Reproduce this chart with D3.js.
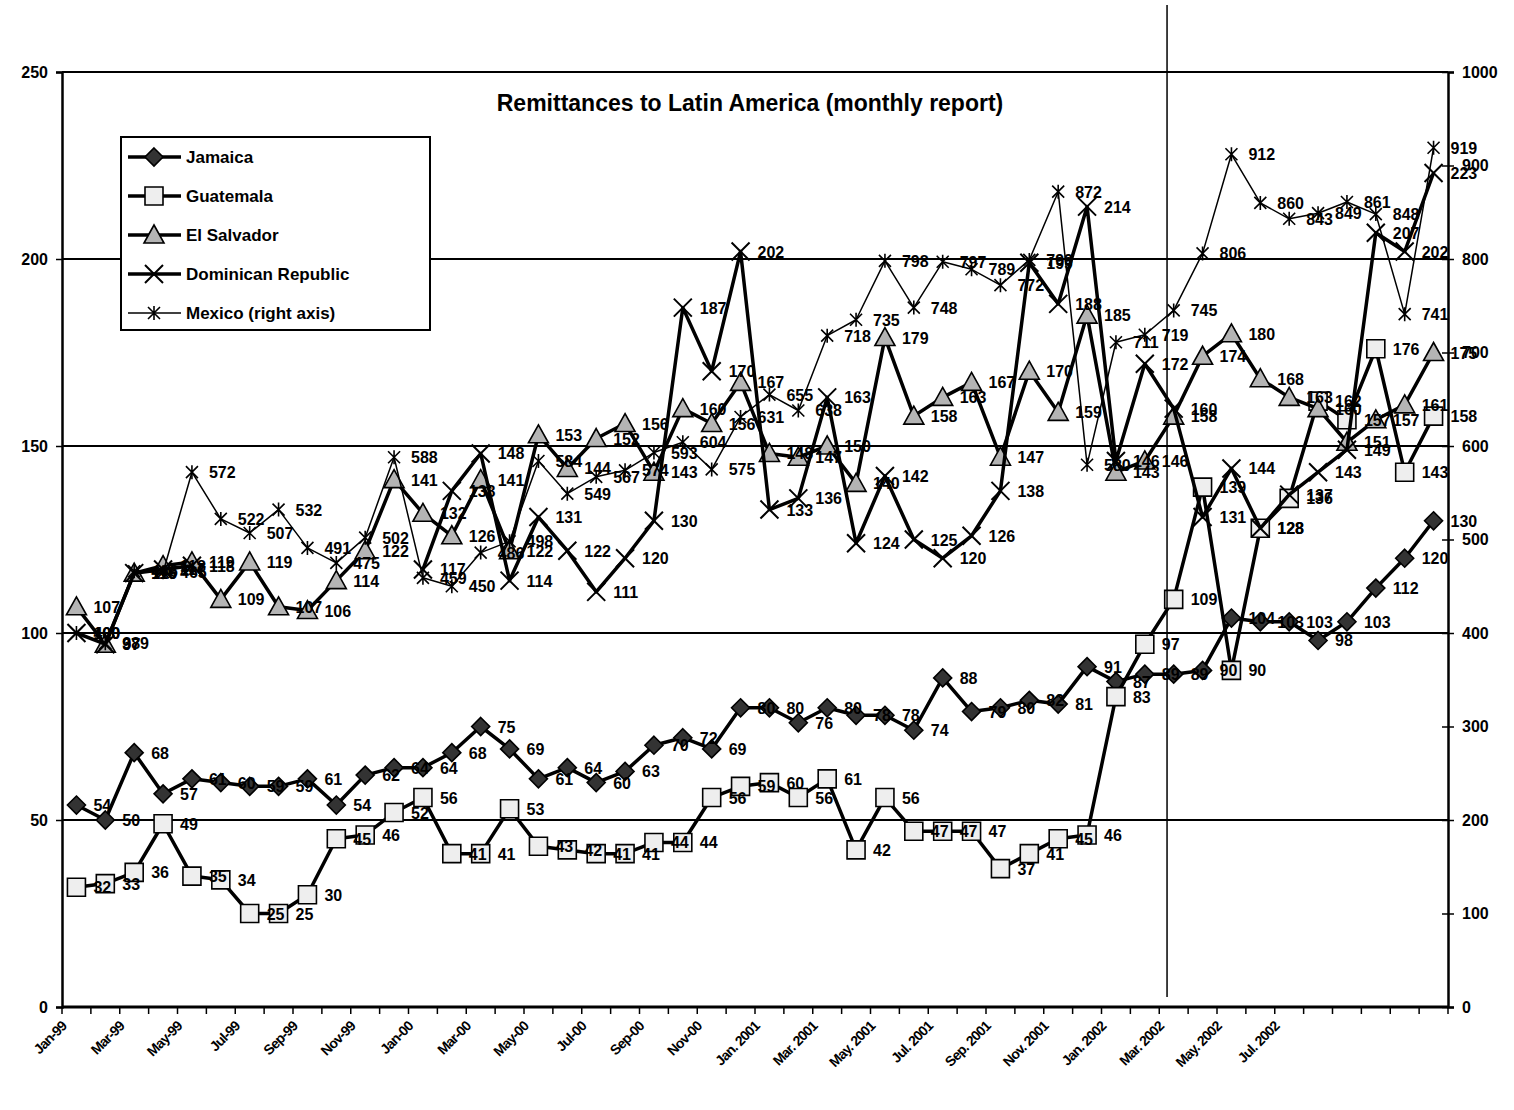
<!DOCTYPE html>
<html>
<head>
<meta charset="utf-8">
<script src="https://cdnjs.cloudflare.com/ajax/libs/d3/7.8.5/d3.min.js"></script>
<style>
  body { margin: 0; background: #fff; }
  svg { font-family: "Liberation Sans", Arial, sans-serif; }
</style>
</head>
<body>
<div id="chart"></div>
<script>
// categories: one per month, Jan 1999 .. Dec 2002
const months = [
  "Jan-99","Feb-99","Mar-99","Apr-99","May-99","Jun-99","Jul-99","Aug-99","Sep-99","Oct-99","Nov-99","Dec-99",
  "Jan-00","Feb-00","Mar-00","Apr-00","May-00","Jun-00","Jul-00","Aug-00","Sep-00","Oct-00","Nov-00","Dec-00",
  "Jan-01","Feb-01","Mar-01","Apr-01","May-01","Jun-01","Jul-01","Aug-01","Sep-01","Oct-01","Nov-01","Dec-01",
  "Jan-02","Feb-02","Mar-02","Apr-02","May-02","Jun-02","Jul-02","Aug-02","Sep-02","Oct-02","Nov-02","Dec-02"
];
// tick labels shown on every second month
const tickLabels = [
  "Jan-99","Mar-99","May-99","Jul-99","Sep-99","Nov-99",
  "Jan-00","Mar-00","May-00","Jul-00","Sep-00","Nov-00",
  "Jan. 2001","Mar. 2001","May. 2001","Jul. 2001","Sep. 2001","Nov. 2001",
  "Jan. 2002","Mar. 2002","May. 2002","Jul. 2002"
];

const jamaica = [54,50,68,57,61,60,59,59,61,54,62,64,64,68,75,69,61,64,60,63,70,72,69,80,
  80,76,80,78,78,74,88,79,80,82,81,91,87,89,89,90,104,103,103,98,103,112,120,130];
const guatemala = [32,33,36,49,35,34,25,25,30,45,46,52,56,41,41,53,43,42,41,41,44,44,56,59,
  60,56,61,42,56,47,47,47,37,41,45,46,83,97,109,139,90,128,136,162,157,176,143,158];
const elSalvador = [107,97,116,118,119,109,119,107,106,114,122,141,132,126,141,122,153,144,152,156,143,160,156,167,
  148,147,150,140,179,158,163,167,147,170,159,185,143,146,158,174,180,168,163,160,151,157,161,175];
const dominican = [100,97,116,117,118,null,null,null,null,null,null,null,117,138,148,114,131,122,111,120,130,187,170,202,
  133,136,163,124,142,125,120,126,138,199,188,214,146,172,160,131,144,128,137,143,149,207,202,223];
const mexico = [400,389,466,465,572,522,507,532,491,475,502,588,459,450,486,498,584,549,567,574,593,604,575,631,
  655,638,718,735,798,748,797,789,772,799,872,580,711,719,745,806,912,860,843,849,861,848,741,919];

const leftTicks = [0,50,100,150,200,250];
const rightTicks = [0,100,200,300,400,500,600,700,800,900,1000];
// position of the vertical marker line, in months from Jan-99
const markerMonth = 37.77;

const W = 1514, H = 1110;
const margin = {top: 72, right: 66, bottom: 103, left: 62};
const plotW = W - margin.left - margin.right,
      plotH = H - margin.top - margin.bottom;

const svg = d3.select("#chart").append("svg")
  .attr("width", W).attr("height", H);

const g = svg.append("g")
  .attr("transform", `translate(${margin.left},${margin.top})`);

const x = d3.scaleBand().domain(months).range([0, plotW]).padding(0);
const cx = m => x(m) + x.bandwidth() / 2;
const y = d3.scaleLinear().domain([0, 250]).range([plotH, 0]);
const yR = d3.scaleLinear().domain([0, 1000]).range([plotH, 0]);

// gridlines
g.append("g").selectAll("line")
  .data(leftTicks.slice(1))
  .join("line")
  .attr("x1", 0).attr("x2", plotW)
  .attr("y1", d => y(d)).attr("y2", d => y(d))
  .attr("stroke", "#000").attr("stroke-width", 2);

// left axis
const axL = g.append("g").call(d3.axisLeft(y).tickValues(leftTicks).tickSize(6).tickPadding(8));
axL.select(".domain").attr("stroke-width", 2.5);
axL.selectAll("line").attr("stroke-width", 1.5);
axL.selectAll("text").style("font-size", "16px").style("font-weight", "bold").attr("fill", "#000");

// right axis
const axR = g.append("g").attr("transform", `translate(${plotW},0)`)
  .call(d3.axisRight(yR).tickValues(rightTicks).tickFormat(d3.format("d")).tickSize(6).tickPadding(8));
axR.select(".domain").attr("stroke-width", 2.5);
axR.selectAll(".tick line").attr("x1", -6).attr("stroke-width", 1.5);
axR.selectAll("text").style("font-size", "16px").style("font-weight", "bold").attr("fill", "#000");

// bottom axis with ticks on month boundaries
const axB = g.append("g").attr("transform", `translate(0,${plotH})`);
axB.append("line").attr("x1", 0).attr("x2", plotW).attr("stroke", "#000").attr("stroke-width", 3);
axB.selectAll("line.tk")
  .data(months.concat(["end"]))
  .join("line").attr("class", "tk")
  .attr("x1", (d, i) => i < months.length ? x(d) : plotW)
  .attr("x2", (d, i) => i < months.length ? x(d) : plotW)
  .attr("y1", 0).attr("y2", 7)
  .attr("stroke", "#000").attr("stroke-width", 1.5);
axB.selectAll("text")
  .data(tickLabels)
  .join("text")
  .attr("transform", (d, i) => `translate(${cx(months[i * 2]) - 9},${20}) rotate(-45)`)
  .attr("text-anchor", "end")
  .style("font-size", "14px").style("font-weight", "bold")
  .style("letter-spacing", "-0.8px")
  .text(d => d);

// vertical marker line
const vx = cx(months[0]) + markerMonth * x.bandwidth();
svg.append("line")
  .attr("x1", margin.left + vx).attr("x2", margin.left + vx)
  .attr("y1", 5).attr("y2", margin.top + plotH - 10)
  .attr("stroke", "#000").attr("stroke-width", 1.5);

// marker shapes
const shapes = {
  diamond: "M0,-9L9,0L0,9L-9,0Z",
  square: "M-9,-9H9V9H-9Z",
  triangle: "M0,-10L10,8L-10,8Z",
  cross: "M-9,-9L9,9M9,-9L-9,9",
  star: "M-6,-6L6,6M6,-6L-6,6M0,-7V7"
};

const series = [
  {name: "Jamaica", values: jamaica, scale: y, shape: "diamond", fill: "#333", width: 3.5},
  {name: "Guatemala", values: guatemala, scale: y, shape: "square", fill: "#eee", width: 3.5},
  {name: "El Salvador", values: elSalvador, scale: y, shape: "triangle", fill: "#b4b4b4", width: 3.5},
  {name: "Dominican Republic", values: dominican, scale: y, shape: "cross", fill: "none", width: 3.5},
  {name: "Mexico (right axis)", values: mexico, scale: yR, shape: "star", fill: "none", width: 1.5}
];

series.forEach(s => {
  const pts = s.values.map((v, i) => ({m: months[i], v: v}));
  const line = d3.line()
    .defined(d => d.v != null)
    .x(d => cx(d.m)).y(d => s.scale(d.v));
  g.append("path").datum(pts)
    .attr("d", line).attr("fill", "none")
    .attr("stroke", "#000").attr("stroke-width", s.width)
    .attr("stroke-linejoin", "round");
  g.append("g").selectAll("path")
    .data(pts.filter(d => d.v != null))
    .join("path")
    .attr("transform", d => `translate(${cx(d.m)},${s.scale(d.v)})`)
    .attr("d", shapes[s.shape])
    .attr("fill", s.fill).attr("stroke", "#000")
    .attr("stroke-width", s.shape === "cross" ? 2 : 1.6);
});

// data labels on top
series.forEach(s => {
  g.append("g").selectAll("text")
    .data(s.values.map((v, i) => ({m: months[i], v: v})).filter(d => d.v != null))
    .join("text")
    .attr("x", d => cx(d.m) + 17)
    .attr("y", d => s.scale(d.v) + 6)
    .style("font-size", "16px").style("font-weight", "bold")
    .text(d => d.v);
});

// title
svg.append("text")
  .attr("x", 750).attr("y", 111)
  .attr("text-anchor", "middle")
  .style("font-size", "23px").style("font-weight", "bold")
  .text("Remittances to Latin America (monthly report)");

// legend
const lg = svg.append("g").attr("transform", "translate(121,137)");
lg.append("rect").attr("width", 309).attr("height", 193)
  .attr("fill", "#fff").attr("stroke", "#000").attr("stroke-width", 2);
const rows = lg.selectAll("g.row").data(series).join("g").attr("class", "row")
  .attr("transform", (d, i) => `translate(0,${20 + i * 39})`);
rows.append("line").attr("x1", 7).attr("x2", 60)
  .attr("stroke", "#000").attr("stroke-width", d => d.width);
rows.append("path").attr("transform", "translate(33,0)")
  .attr("d", d => shapes[d.shape])
  .attr("fill", d => d.fill).attr("stroke", "#000")
  .attr("stroke-width", d => d.shape === "cross" ? 2 : 1.6);
rows.append("text").attr("x", 65).attr("y", 6)
  .style("font-size", "17px").style("font-weight", "bold")
  .text(d => d.name);
</script>
</body>
</html>
